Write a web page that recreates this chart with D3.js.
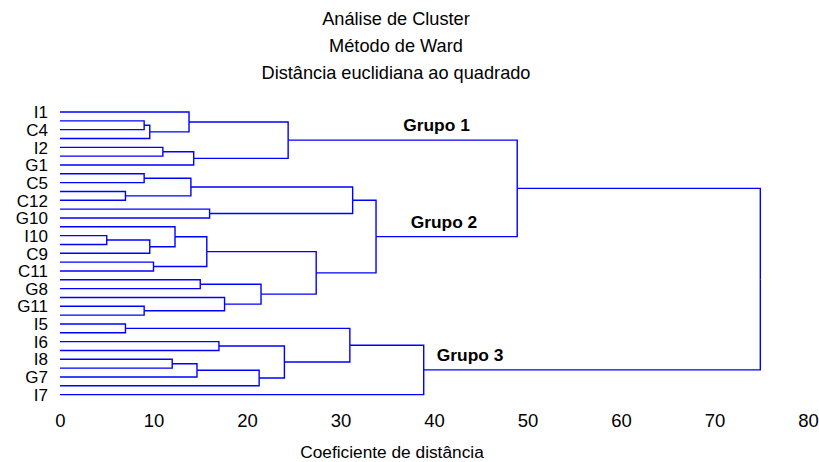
<!DOCTYPE html>
<html>
<head>
<meta charset="utf-8">
<script src="https://cdn.jsdelivr.net/npm/d3@7"></script>
<style>
  html, body { margin: 0; padding: 0; background: #fff; }
  svg { display: block; font-family: "Liberation Sans", Arial, sans-serif; }
</style>
</head>
<body>
<svg id="chart" width="819" height="462"></svg>
<script>
// ---- data ----
const titleLines = ["Análise de Cluster", "Método de Ward", "Distância euclidiana ao quadrado"];
const xLabel = "Coeficiente de distância";
const xTicks = [0, 10, 20, 30, 40, 50, 60, 70, 80];
// leaves in dendrogram order (only every other leaf is labelled in the original)
const leafLabels = ["I1", "", "C4", "", "I2", "", "G1", "", "C5", "", "C12", "", "G10", "",
  "I10", "", "C9", "", "C11", "", "G8", "", "G11", "", "I5", "", "I6", "", "I8", "", "G7", "", "I7"];
// merges: [childA, childB, distance]; ids 0..32 are leaves, 33+ are clusters in merge order
const merges = [
  [1, 2, 9.0], [33, 3, 9.6], [0, 34, 13.8], [4, 5, 11.0], [36, 6, 14.3], [35, 37, 24.4],
  [7, 8, 9.0], [9, 10, 7.0], [39, 40, 14.0], [11, 12, 16.0], [41, 42, 31.3],
  [14, 15, 5.0], [44, 16, 9.6], [13, 45, 12.3], [17, 18, 10.0], [46, 47, 15.7],
  [19, 20, 15.0], [22, 23, 9.0], [21, 50, 17.6], [49, 51, 21.5], [48, 52, 27.4],
  [43, 53, 33.8], [38, 54, 48.9],
  [24, 25, 7.0], [26, 27, 17.0], [28, 29, 12.0], [58, 30, 14.65], [59, 31, 21.3],
  [57, 60, 24.0], [56, 61, 31.0], [62, 32, 38.9],
  [55, 63, 74.9]
];
const groupNames = ["Grupo 1", "Grupo 2", "Grupo 3"];
const groupNodes = [38, 54, 63];
const groupLabelAt = [36.7, 37.5, 40.3];

// ---- build tree ----
const nLeaves = leafLabels.length;
const nodes = [];
leafLabels.forEach((l, i) => nodes.push({ id: i, name: l, height: 0, order: i }));
merges.forEach((m, k) => nodes.push({ id: nLeaves + k, name: "", height: m[2], children: [nodes[m[0]], nodes[m[1]]] }));
const rootData = nodes[nodes.length - 1];
const root = d3.hierarchy(rootData, d => d.children);

const svg = d3.select("#chart");
const x = d3.scaleLinear().domain([0, 80]).range([60, 808]);
const y = d3.scaleLinear().domain([0, nLeaves - 1]).range([112, 394.6]);

// compute y positions (midpoint of children)
root.eachAfter(n => {
  if (!n.children) n.py = y(n.data.order);
  else n.py = (n.children[0].py + n.children[1].py) / 2;
  n.px = x(n.data.height);
});

// ---- links (elbows) ----
svg.append("g")
  .attr("fill", "none")
  .attr("stroke", "#0000ff")
  .attr("stroke-width", 1.4)
  .selectAll("path")
  .data(root.descendants().filter(d => d.parent))
  .join("path")
  .attr("d", d => `M${d.px},${d.py}H${d.parent.px}V${d.parent.py}`);

// ---- leaf labels ----
svg.append("g")
  .selectAll("text")
  .data(root.leaves().filter(d => d.data.name))
  .join("text")
  .attr("x", 48)
  .attr("y", d => d.py + 6.2)
  .attr("text-anchor", "end")
  .attr("font-size", 17)
  .attr("fill", "#000")
  .text(d => d.data.name);

// ---- group labels ----
const byId = new Map(root.descendants().map(d => [d.data.id, d]));
svg.append("g")
  .selectAll("text")
  .data(groupNames)
  .join("text")
  .attr("x", (d, i) => x(groupLabelAt[i]))
  .attr("y", (d, i) => byId.get(groupNodes[i]).py - 9)
  .attr("font-size", 17.4)
  .attr("font-weight", "bold")
  .attr("fill", "#000")
  .text(d => d);

// ---- x axis (labels only) ----
const axis = svg.append("g")
  .attr("transform", "translate(0,410)")
  .call(d3.axisBottom(x).tickValues(xTicks).tickSize(0).tickPadding(4).tickFormat(d3.format("d")));
axis.select(".domain").remove();
axis.selectAll("text")
  .attr("font-size", 18.5)
  .attr("font-family", "'Liberation Sans', Arial, sans-serif")
  .attr("fill", "#000");

svg.append("text")
  .attr("x", 392)
  .attr("y", 458)
  .attr("text-anchor", "middle")
  .attr("font-size", 17.3)
  .attr("fill", "#000")
  .text(xLabel);

// ---- title ----
svg.append("g")
  .selectAll("text")
  .data(titleLines)
  .join("text")
  .attr("x", 396)
  .attr("y", (d, i) => 25 + i * 27)
  .attr("text-anchor", "middle")
  .attr("font-size", 18.2)
  .attr("fill", "#000")
  .text(d => d);
</script>
</body>
</html>
